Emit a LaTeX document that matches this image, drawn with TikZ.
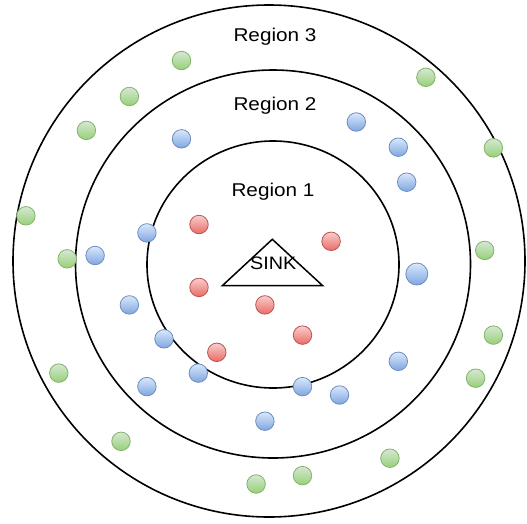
\documentclass[tikz,border=0pt]{standalone}
\usepackage{fontspec}
\setmainfont{Liberation Sans}
\usetikzlibrary{calc}
\definecolor{greenline}{HTML}{82B366}
\definecolor{greentop}{HTML}{D5E8D4}
\definecolor{greenbot}{HTML}{97D077}
\definecolor{blueline}{HTML}{6C8EBF}
\definecolor{bluetop}{HTML}{DAE8FC}
\definecolor{bluebot}{HTML}{7EA6E0}
\definecolor{redline}{HTML}{B85450}
\definecolor{redtop}{HTML}{F8CECC}
\definecolor{redbot}{HTML}{EA6B66}
\tikzstyle{ring} = [draw=black, line width=1.6pt]
\tikzstyle{label} = [inner sep=0pt, xscale=1.12, font=\fontsize{18.5}{22}\selectfont]
\tikzstyle{sensor} = [circle, line width=0.8pt, minimum size=18.5pt, inner sep=0pt]
\tikzstyle{far} = [sensor, draw=greenline, top color=greentop, bottom color=greenbot]
\tikzstyle{mid} = [sensor, draw=blueline, top color=bluetop, bottom color=bluebot]
\tikzstyle{near} = [sensor, draw=redline, top color=redtop, bottom color=redbot]

\begin{document}
\begin{tikzpicture}[x=1pt, y=-1pt]

        \useasboundingbox (0,0) rectangle (527,523);

        % the three regions around the sink
        \draw [ring] (269,261) circle [x radius=256, y radius=256];
        \draw [ring] (273,264) circle [x radius=197.5, y radius=194];
        \draw [ring] (273,264.5) circle [x radius=126, y radius=123.5];

        \node (reg3) [label] at (275,36.5) {Region 3};
        \node (reg2) [label] at (275,106) {Region 2};
        \node (reg1) [label] at (273,191.5) {Region 1};

        % sink
        \coordinate (top)   at (272.3,239.3);
        \coordinate (left)  at (222.3,285.7);
        \coordinate (right) at (322.7,285.7);
        \draw [line width=1.5pt, line join=miter] (top) -- (left) -- (right) -- cycle;
        \node (sink) [inner sep=0pt, xscale=1.1, font=\fontsize{18}{21}\selectfont] at (273.3,263) {SINK};

        % nodes in region 3
        \foreach \n/\x/\y in {g1/181.5/60.5, g2/425.9/77.3, g3/129.4/96.5, g4/86.4/130.4,
                g5/493.4/147.9, g6/25.9/215.8, g7/67.2/258.8, g8/484.7/250.4,
                g9/493.4/335.1, g10/58.8/373.1, g11/475.6/378.2, g12/121/441.3,
                g13/389.9/458.2, g14/302.5/475.6, g15/256.1/484}
            \node (\n) [far] at (\x,\y) {};

        % nodes in region 2
        \foreach \n/\x/\y in {b1/181.5/138.8, b2/356.3/122, b3/398.3/147.2, b4/406.7/182.2,
                b5/146.9/232.9, b6/95.1/255.5, b8/129.4/304.9, b9/164/338.8,
                b10/398.3/361.3, b11/198.3/373.1, b12/146.9/386.6, b13/302.5/386.6,
                b14/339.5/395, b15/264.9/421.2}
            \node (\n) [mid] at (\x,\y) {};
        \node (b7) [mid, minimum size=22pt] at (416.8,274) {};

        % nodes in region 1
        \foreach \n/\x/\y in {r1/199/224.5, r2/331.1/241.3, r3/199/287.4,
                r4/264.9/304.9, r5/302.5/335.1, r6/216.8/352.3}
            \node (\n) [near] at (\x,\y) {};

    \end{tikzpicture}
\end{document}
